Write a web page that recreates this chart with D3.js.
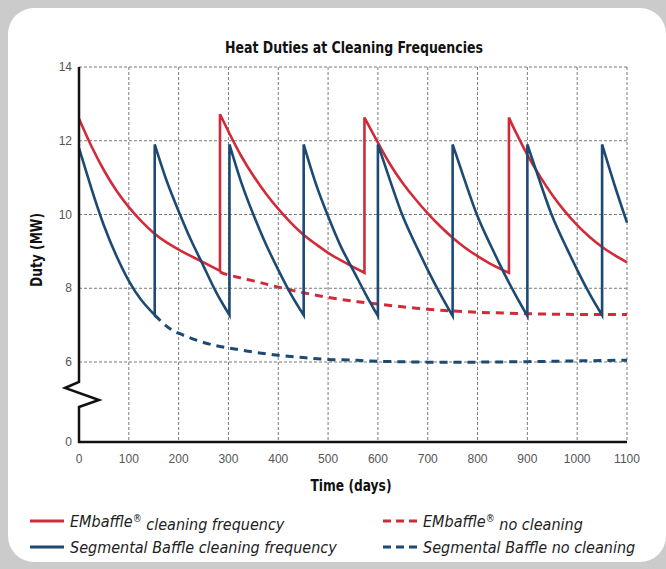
<!DOCTYPE html>
<html>
<head>
<meta charset="utf-8">
<script src="https://cdn.jsdelivr.net/npm/d3@7"></script>
<style>
	body { margin: 0; background: #cbcbcb; }
	svg { display: block; }
	.cond { font-family: "Liberation Sans Narrow", "DejaVu Sans Condensed", "Arial Narrow", sans-serif; }
</style>
</head>
<body>
<div id="chart"></div>
<script>
// ticks
const xTicks = [0, 100, 200, 300, 400, 500, 600, 700, 800, 900, 1000, 1100];
const yTicks = [0, 6, 8, 10, 12, 14];
const yGrid = [6, 8, 10, 12, 14];

// EMbaffle, cleaned (one array per cleaning cycle) [day, MW]
const emClean = [
	[[0, 12.6], [25, 11.85], [50, 11.2], [75, 10.65], [100, 10.2], [125, 9.82], [150, 9.5], [175, 9.25],
		[200, 9.05], [225, 8.87], [250, 8.7], [283, 8.47]],
	[[283, 12.72], [300, 12.25], [325, 11.6], [350, 11.05], [375, 10.57], [400, 10.15], [425, 9.78], [450, 9.46],
		[475, 9.2], [500, 8.96], [525, 8.76], [550, 8.58], [573, 8.42]],
	[[573, 12.63], [600, 11.95], [625, 11.35], [650, 10.85], [675, 10.42], [700, 10.03], [725, 9.68], [750, 9.37],
		[775, 9.1], [800, 8.87], [825, 8.67], [850, 8.5], [863, 8.42]],
	[[863, 12.63], [875, 12.28], [900, 11.62], [925, 11.04], [950, 10.53], [975, 10.09], [1000, 9.71], [1025, 9.39],
		[1050, 9.12], [1075, 8.9], [1100, 8.7]]
];

// Segmental baffle, cleaned
const sbClean = [
	[[0, 11.8], [25, 10.7], [50, 9.7], [75, 8.88], [100, 8.2], [125, 7.68], [152, 7.27]],
	[[152, 11.9], [175, 10.95], [200, 10.09], [225, 9.3], [250, 8.6], [275, 7.9], [302, 7.27]],
	[[302, 11.9], [325, 10.9], [350, 10.0], [375, 9.2], [400, 8.5], [425, 7.85], [451, 7.27]],
	[[451, 11.9], [475, 10.85], [500, 9.95], [525, 9.15], [550, 8.5], [575, 7.85], [600, 7.25]],
	[[600, 11.9], [625, 10.9], [650, 9.95], [675, 9.2], [700, 8.5], [725, 7.85], [750, 7.25]],
	[[750, 11.9], [775, 10.9], [800, 9.95], [825, 9.2], [850, 8.5], [875, 7.85], [900, 7.25]],
	[[900, 11.9], [925, 10.9], [950, 9.95], [975, 9.2], [1000, 8.5], [1025, 7.85], [1050, 7.27]],
	[[1050, 11.9], [1075, 10.8], [1100, 9.78]]
];

// no cleaning
const emNoClean = [[283, 8.45], [300, 8.36], [350, 8.2], [400, 8.03], [450, 7.88], [500, 7.75], [550, 7.65],
	[600, 7.57], [700, 7.43], [800, 7.35], [900, 7.31], [1000, 7.29], [1100, 7.29]];
const sbNoClean = [[152, 7.27], [175, 6.98], [200, 6.78], [250, 6.53], [300, 6.38], [350, 6.27], [400, 6.18],
	[450, 6.12], [500, 6.07], [550, 6.05], [600, 6.02], [700, 5.99], [800, 5.99], [900, 6.01], [1000, 6.03], [1100, 6.05]];

const RED = '#d12b3a';
const BLUE = '#1d4a72';

const legendItems = [
	{ label: 'EMbaffle', sup: true, rest: ' cleaning frequency', color: RED, dash: null },
	{ label: 'EMbaffle', sup: true, rest: ' no cleaning', color: RED, dash: '8,5' },
	{ label: 'Segmental Baffle cleaning frequency', sup: false, rest: '', color: BLUE, dash: null },
	{ label: 'Segmental Baffle no cleaning', sup: false, rest: '', color: BLUE, dash: '8,5' }
];

const svg = d3.select('#chart')
	.append('svg')
	.attr('width', 666)
	.attr('height', 569);

// panel
svg.append('rect')
	.attr('x', 0).attr('y', 0)
	.attr('width', 666).attr('height', 569)
	.style('fill', '#cbcbcb');
svg.append('rect')
	.attr('x', 8).attr('y', 8)
	.attr('width', 658).attr('height', 554)
	.attr('rx', 26)
	.style('fill', '#ffffff');

const x = d3.scaleLinear().domain([0, 1100]).range([79, 627]);
// broken axis: 0..6 squeezed
const y = d3.scaleLinear().domain([0, 6, 14]).range([442, 362, 67]);

// grid
svg.append('g').selectAll('line')
	.data(xTicks.slice(1))
	.join('line')
	.attr('x1', d => x(d)).attr('x2', d => x(d))
	.attr('y1', y(14)).attr('y2', y(0))
	.style('stroke', '#7a7a7a')
	.style('stroke-width', '1px')
	.style('stroke-dasharray', '3,2');

svg.append('g').selectAll('line')
	.data(yGrid)
	.join('line')
	.attr('x1', x(0)).attr('x2', x(1100))
	.attr('y1', d => y(d)).attr('y2', d => y(d))
	.style('stroke', '#7a7a7a')
	.style('stroke-width', '1px')
	.style('stroke-dasharray', '3,2');

// lines
const line = d3.line()
	.x(d => x(d[0]))
	.y(d => y(d[1]))
	.curve(d3.curveNatural);

function joined(segments) {
	return segments.map((s, i) => {
		const p = line(s);
		return i === 0 ? p : 'L' + p.slice(1);
	}).join('');
}

svg.append('path')
	.attr('d', line(emNoClean))
	.style('fill', 'none')
	.style('stroke', RED)
	.style('stroke-width', '3px')
	.style('stroke-dasharray', '8,6');

svg.append('path')
	.attr('d', line(sbNoClean))
	.style('fill', 'none')
	.style('stroke', BLUE)
	.style('stroke-width', '3px')
	.style('stroke-dasharray', '8,6');

svg.append('path')
	.attr('d', joined(emClean))
	.style('fill', 'none')
	.style('stroke', RED)
	.style('stroke-width', '2.6px');

svg.append('path')
	.attr('d', joined(sbClean))
	.style('fill', 'none')
	.style('stroke', BLUE)
	.style('stroke-width', '2.6px');

// axes
const x0 = x(0);
const brk = y(6) + 20;
svg.append('path')
	.attr('d', 'M' + x0 + ',' + y(14) + 'L' + x0 + ',' + brk +
		'L' + (x0 - 14) + ',' + (brk + 6) +
		'L' + (x0 + 20) + ',' + (brk + 18) +
		'L' + x0 + ',' + (brk + 25) +
		'L' + x0 + ',' + y(0) + 'L' + x(1100) + ',' + y(0))
	.style('fill', 'none')
	.style('stroke', '#111')
	.style('stroke-width', '2.5px');

svg.append('g').selectAll('text')
	.data(yTicks)
	.join('text')
	.attr('x', 72)
	.attr('y', d => y(d))
	.attr('dy', '0.35em')
	.attr('text-anchor', 'end')
	.style('font-family', 'Liberation Sans, Arial, sans-serif')
	.style('font-size', '12px')
	.style('fill', '#555')
	.text(d => d);

svg.append('g').selectAll('text')
	.data(xTicks)
	.join('text')
	.attr('x', d => x(d))
	.attr('y', 463)
	.attr('text-anchor', 'middle')
	.style('font-family', 'Liberation Sans, Arial, sans-serif')
	.style('font-size', '12px')
	.style('fill', '#555')
	.text(d => d);

// titles (condensed bold, squeezed to the reference widths)
svg.append('text')
	.attr('class', 'cond')
	.attr('x', 354).attr('y', 53)
	.attr('text-anchor', 'middle')
	.attr('textLength', 258)
	.attr('lengthAdjust', 'spacingAndGlyphs')
	.style('font-size', '16px')
	.style('font-weight', 'bold')
	.style('fill', '#111')
	.text('Heat Duties at Cleaning Frequencies');

svg.append('text')
	.attr('class', 'cond')
	.attr('x', 351).attr('y', 491)
	.attr('text-anchor', 'middle')
	.attr('textLength', 81)
	.attr('lengthAdjust', 'spacingAndGlyphs')
	.style('font-size', '16px')
	.style('font-weight', 'bold')
	.style('fill', '#111')
	.text('Time (days)');

svg.append('text')
	.attr('class', 'cond')
	.attr('transform', 'translate(42,250) rotate(-90)')
	.attr('text-anchor', 'middle')
	.attr('textLength', 74)
	.attr('lengthAdjust', 'spacingAndGlyphs')
	.style('font-size', '16px')
	.style('font-weight', 'bold')
	.style('fill', '#111')
	.text('Duty (MW)');

// legend
const legend = svg.append('g');
legendItems.forEach((d, i) => {
	const lx = i % 2 === 0 ? 30 : 383;
	const ly = i < 2 ? 521 : 547;
	legend.append('line')
		.attr('x1', lx).attr('x2', lx + 34)
		.attr('y1', ly).attr('y2', ly)
		.style('stroke', d.color)
		.style('stroke-width', '3px')
		.style('stroke-dasharray', d.dash);
	const t = legend.append('text')
		.attr('class', 'cond')
		.attr('x', lx + 40).attr('y', ly)
		.attr('dy', '0.35em')
		.style('font-size', '16px')
		.style('font-style', 'italic')
		.style('fill', '#222');
	t.append('tspan').text(d.label);
	if (d.sup) {
		t.append('tspan')
			.attr('dy', '-0.5em')
			.style('font-size', '10px')
			.text('®');
		t.append('tspan')
			.attr('dy', '0.5em')
			.text(d.rest);
	}
});
</script>
</body>
</html>
